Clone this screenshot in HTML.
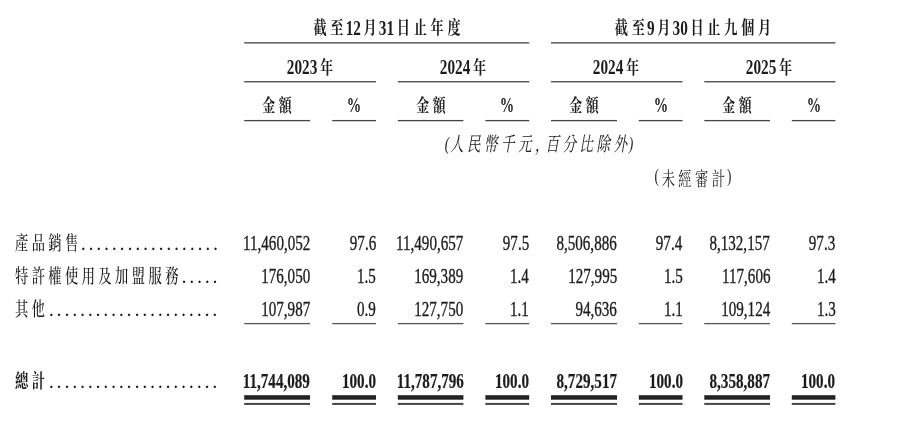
<!DOCTYPE html>
<html lang="zh-Hant"><head><meta charset="utf-8"><title>收入明細</title>
<style>
html,body{margin:0;padding:0;background:#fff;overflow:hidden;}
#page{position:absolute;left:0;top:0;width:900px;height:421px;overflow:hidden;background:#fff;}
body{width:900px;height:421px;position:relative;overflow:hidden;font-family:"Liberation Serif","Noto Serif CJK SC",serif;color:#1c1c1c;}
.t{position:absolute;white-space:nowrap;line-height:40px;height:40px;}
.c{display:inline-block;font-size:0.92em;letter-spacing:0.26em;line-height:40px;vertical-align:baseline;transform-origin:50% 70%;transform:translateY(var(--dy,-1px)) scaleY(var(--ky,1));}
.e{margin-right:-0.26em;}
.g{margin-left:0.2em;}
.k{margin-right:-0.12em;}
.b{font-weight:bold;}
.h .c{font-size:0.862em;--ky:1.067;letter-spacing:0.285em;}
.h .e{margin-right:-0.285em;}
.i{font-style:italic;}
.ln{position:absolute;}
.n{-webkit-text-stroke:0.35px #1c1c1c;}
.n.b{-webkit-text-stroke:0.2px #1c1c1c;}
.p{display:inline-block;font-size:0.92em;transform:translateY(-5px);}
.lab{position:absolute;white-space:nowrap;height:40px;line-height:40px;transform-origin:0 0;}
.d{letter-spacing:5.806px;font-weight:bold;}
</style></head><body>
<div id="page">
<div class="t b h" style="top:8.00px;left:186.60px;width:400px;text-align:center;transform-origin:50% 0;transform:scaleX(0.763);font-size:20px;"><span class="c k">截至</span>12<span class="c g k">月</span>31<span class="c e g">日止年度</span></div>
<div class="t b h" style="top:8.00px;left:493.20px;width:400px;text-align:center;transform-origin:50% 0;transform:scaleX(0.763);font-size:20px;"><span class="c k">截至</span>9<span class="c g k">月</span>30<span class="c e g">日止九個月</span></div>
<div class="t b h" style="top:47.00px;left:109.70px;width:400px;text-align:center;transform-origin:50% 0;transform:scaleX(0.763);font-size:20px;">2023<span class="c e g" style="--dy:0px">年</span></div>
<div class="t b h" style="top:47.00px;left:263.10px;width:400px;text-align:center;transform-origin:50% 0;transform:scaleX(0.763);font-size:20px;">2024<span class="c e g" style="--dy:0px">年</span></div>
<div class="t b h" style="top:47.00px;left:416.35px;width:400px;text-align:center;transform-origin:50% 0;transform:scaleX(0.763);font-size:20px;">2024<span class="c e g" style="--dy:0px">年</span></div>
<div class="t b h" style="top:47.00px;left:569.45px;width:400px;text-align:center;transform-origin:50% 0;transform:scaleX(0.763);font-size:20px;">2025<span class="c e g" style="--dy:0px">年</span></div>
<div class="t b h" style="top:85.00px;left:77.40px;width:400px;text-align:center;transform-origin:50% 0;transform:scaleX(0.75);font-size:20px;"><span class="c e" style="--dy:0px;font-weight:700">金額</span></div>
<div class="t b h" style="top:85.00px;left:154.10px;width:400px;text-align:center;transform-origin:50% 0;transform:scaleX(0.72);font-size:20px;">%</div>
<div class="t b h" style="top:85.00px;left:230.90px;width:400px;text-align:center;transform-origin:50% 0;transform:scaleX(0.75);font-size:20px;"><span class="c e" style="--dy:0px;font-weight:700">金額</span></div>
<div class="t b h" style="top:85.00px;left:307.30px;width:400px;text-align:center;transform-origin:50% 0;transform:scaleX(0.72);font-size:20px;">%</div>
<div class="t b h" style="top:85.00px;left:384.30px;width:400px;text-align:center;transform-origin:50% 0;transform:scaleX(0.75);font-size:20px;"><span class="c e" style="--dy:0px;font-weight:700">金額</span></div>
<div class="t b h" style="top:85.00px;left:460.65px;width:400px;text-align:center;transform-origin:50% 0;transform:scaleX(0.72);font-size:20px;">%</div>
<div class="t b h" style="top:85.00px;left:537.45px;width:400px;text-align:center;transform-origin:50% 0;transform:scaleX(0.75);font-size:20px;"><span class="c e" style="--dy:0px;font-weight:700">金額</span></div>
<div class="t b h" style="top:85.00px;left:613.60px;width:400px;text-align:center;transform-origin:50% 0;transform:scaleX(0.72);font-size:20px;">%</div>
<div class="t i" style="top:125.00px;left:339.10px;width:400px;text-align:center;transform-origin:50% 0;transform:scaleX(0.734);font-size:20px;"><span class="p" style="transform:translateY(-2px);margin-right:1px">(</span><span class="c" style="--ky:1.08;--dy:-1px">人民幣千元</span><span class="c" style="letter-spacing:-0.24em;--ky:1.08;--dy:-1px">，</span><span class="c e" style="--ky:1.08;--dy:-1px">百分比除外</span><span class="p" style="transform:translateY(-2px);margin-left:2.4px">)</span></div>
<div class="t " style="top:160.00px;left:493.30px;width:400px;text-align:center;transform-origin:50% 0;transform:scaleX(0.72);font-size:20px;"><span class="p" style="letter-spacing:0.2em">(</span><span class="c e" style="--ky:1.035">未經審計</span><span class="p" style="margin-left:0.15em">)</span></div>
<div class="lab" style="left:15px;top:223px;transform:scaleX(0.72);font-size:20px;"><span class="c" style="--ky:1.06;--dy:0px;font-weight:500">產品銷售</span></div>
<div class="lab d" style="right:678.40px;top:223px;transform-origin:100% 27px;transform:scale(0.72,0.78);font-size:20px;">..................</div>
<div class="t n" style="top:223.00px;right:590.00px;transform-origin:100% 0;transform:scaleX(0.729);font-size:20.7px;">11,460,052</div>
<div class="t n" style="top:223.00px;right:524.00px;transform-origin:100% 0;transform:scaleX(0.729);font-size:20.7px;">97.6</div>
<div class="t n" style="top:223.00px;right:436.60px;transform-origin:100% 0;transform:scaleX(0.729);font-size:20.7px;">11,490,657</div>
<div class="t n" style="top:223.00px;right:370.80px;transform-origin:100% 0;transform:scaleX(0.729);font-size:20.7px;">97.5</div>
<div class="t n" style="top:223.00px;right:283.00px;transform-origin:100% 0;transform:scaleX(0.729);font-size:20.7px;">8,506,886</div>
<div class="t n" style="top:223.00px;right:217.50px;transform-origin:100% 0;transform:scaleX(0.729);font-size:20.7px;">97.4</div>
<div class="t n" style="top:223.00px;right:130.00px;transform-origin:100% 0;transform:scaleX(0.729);font-size:20.7px;">8,132,157</div>
<div class="t n" style="top:223.00px;right:64.60px;transform-origin:100% 0;transform:scaleX(0.729);font-size:20.7px;">97.3</div>
<div class="lab" style="left:15px;top:256px;transform:scaleX(0.72);font-size:20px;"><span class="c" style="--ky:1.06;--dy:0px;font-weight:500">特許權使用及加盟服務</span></div>
<div class="lab d" style="right:679.20px;top:256px;transform-origin:100% 27px;transform:scale(0.72,0.78);font-size:20px;">.....</div>
<div class="t n" style="top:256.00px;right:590.00px;transform-origin:100% 0;transform:scaleX(0.729);font-size:20.7px;">176,050</div>
<div class="t n" style="top:256.00px;right:524.00px;transform-origin:100% 0;transform:scaleX(0.729);font-size:20.7px;">1.5</div>
<div class="t n" style="top:256.00px;right:436.60px;transform-origin:100% 0;transform:scaleX(0.729);font-size:20.7px;">169,389</div>
<div class="t n" style="top:256.00px;right:370.80px;transform-origin:100% 0;transform:scaleX(0.729);font-size:20.7px;">1.4</div>
<div class="t n" style="top:256.00px;right:283.00px;transform-origin:100% 0;transform:scaleX(0.729);font-size:20.7px;">127,995</div>
<div class="t n" style="top:256.00px;right:217.50px;transform-origin:100% 0;transform:scaleX(0.729);font-size:20.7px;">1.5</div>
<div class="t n" style="top:256.00px;right:130.00px;transform-origin:100% 0;transform:scaleX(0.729);font-size:20.7px;">117,606</div>
<div class="t n" style="top:256.00px;right:64.60px;transform-origin:100% 0;transform:scaleX(0.729);font-size:20.7px;">1.4</div>
<div class="lab" style="left:15px;top:289px;transform:scaleX(0.72);font-size:20px;"><span class="c" style="--ky:1.06;--dy:0px;font-weight:500">其他</span></div>
<div class="lab d" style="right:679.20px;top:289px;transform-origin:100% 27px;transform:scale(0.72,0.78);font-size:20px;">......................</div>
<div class="t n" style="top:289.00px;right:590.00px;transform-origin:100% 0;transform:scaleX(0.729);font-size:20.7px;">107,987</div>
<div class="t n" style="top:289.00px;right:524.00px;transform-origin:100% 0;transform:scaleX(0.729);font-size:20.7px;">0.9</div>
<div class="t n" style="top:289.00px;right:436.60px;transform-origin:100% 0;transform:scaleX(0.729);font-size:20.7px;">127,750</div>
<div class="t n" style="top:289.00px;right:370.80px;transform-origin:100% 0;transform:scaleX(0.729);font-size:20.7px;">1.1</div>
<div class="t n" style="top:289.00px;right:283.00px;transform-origin:100% 0;transform:scaleX(0.729);font-size:20.7px;">94,636</div>
<div class="t n" style="top:289.00px;right:217.50px;transform-origin:100% 0;transform:scaleX(0.729);font-size:20.7px;">1.1</div>
<div class="t n" style="top:289.00px;right:130.00px;transform-origin:100% 0;transform:scaleX(0.729);font-size:20.7px;">109,124</div>
<div class="t n" style="top:289.00px;right:64.60px;transform-origin:100% 0;transform:scaleX(0.729);font-size:20.7px;">1.3</div>
<div class="lab" style="left:15px;top:361px;transform:scaleX(0.72);font-size:20px;"><span class="c" style="--ky:1.06;--dy:0px;font-weight:700">總計</span></div>
<div class="lab d" style="right:679.20px;top:361px;transform-origin:100% 27px;transform:scale(0.72,0.78);font-size:20px;">......................</div>
<div class="t n b" style="top:361.00px;right:590.00px;transform-origin:100% 0;transform:scaleX(0.756);font-size:20px;">11,744,089</div>
<div class="t n b" style="top:361.00px;right:524.00px;transform-origin:100% 0;transform:scaleX(0.756);font-size:20px;">100.0</div>
<div class="t n b" style="top:361.00px;right:436.60px;transform-origin:100% 0;transform:scaleX(0.756);font-size:20px;">11,787,796</div>
<div class="t n b" style="top:361.00px;right:370.80px;transform-origin:100% 0;transform:scaleX(0.756);font-size:20px;">100.0</div>
<div class="t n b" style="top:361.00px;right:283.00px;transform-origin:100% 0;transform:scaleX(0.756);font-size:20px;">8,729,517</div>
<div class="t n b" style="top:361.00px;right:217.50px;transform-origin:100% 0;transform:scaleX(0.756);font-size:20px;">100.0</div>
<div class="t n b" style="top:361.00px;right:130.00px;transform-origin:100% 0;transform:scaleX(0.756);font-size:20px;">8,358,887</div>
<div class="t n b" style="top:361.00px;right:64.60px;transform-origin:100% 0;transform:scaleX(0.756);font-size:20px;">100.0</div>
<svg class="ln" width="900" height="421" viewBox="0 0 900 421" style="left:0;top:0">
<rect x="244.20" y="42.20" width="285.00" height="1.3" fill="#444"/>
<rect x="551.00" y="42.20" width="284.40" height="1.3" fill="#444"/>
<rect x="244.20" y="81.10" width="131.80" height="1.3" fill="#444"/>
<rect x="397.80" y="81.10" width="131.40" height="1.3" fill="#444"/>
<rect x="551.00" y="81.10" width="131.50" height="1.3" fill="#444"/>
<rect x="704.30" y="81.10" width="131.10" height="1.3" fill="#444"/>
<rect x="244.20" y="119.95" width="65.80" height="1.3" fill="#444"/>
<rect x="332.20" y="119.95" width="43.80" height="1.3" fill="#444"/>
<rect x="397.80" y="119.95" width="65.60" height="1.3" fill="#444"/>
<rect x="485.40" y="119.95" width="43.80" height="1.3" fill="#444"/>
<rect x="551.00" y="119.95" width="66.00" height="1.3" fill="#444"/>
<rect x="638.80" y="119.95" width="43.70" height="1.3" fill="#444"/>
<rect x="704.30" y="119.95" width="65.70" height="1.3" fill="#444"/>
<rect x="791.80" y="119.95" width="43.60" height="1.3" fill="#444"/>
<rect x="244.20" y="322.95" width="65.80" height="1.3" fill="#555"/>
<rect x="244.20" y="395.20" width="65.80" height="4.5" fill="#222"/>
<rect x="244.20" y="402.90" width="65.80" height="2.0" fill="#444"/>
<rect x="332.20" y="322.95" width="43.80" height="1.3" fill="#555"/>
<rect x="332.20" y="395.20" width="43.80" height="4.5" fill="#222"/>
<rect x="332.20" y="402.90" width="43.80" height="2.0" fill="#444"/>
<rect x="397.80" y="322.95" width="65.60" height="1.3" fill="#555"/>
<rect x="397.80" y="395.20" width="65.60" height="4.5" fill="#222"/>
<rect x="397.80" y="402.90" width="65.60" height="2.0" fill="#444"/>
<rect x="485.40" y="322.95" width="43.80" height="1.3" fill="#555"/>
<rect x="485.40" y="395.20" width="43.80" height="4.5" fill="#222"/>
<rect x="485.40" y="402.90" width="43.80" height="2.0" fill="#444"/>
<rect x="551.00" y="322.95" width="66.00" height="1.3" fill="#555"/>
<rect x="551.00" y="395.20" width="66.00" height="4.5" fill="#222"/>
<rect x="551.00" y="402.90" width="66.00" height="2.0" fill="#444"/>
<rect x="638.80" y="322.95" width="43.70" height="1.3" fill="#555"/>
<rect x="638.80" y="395.20" width="43.70" height="4.5" fill="#222"/>
<rect x="638.80" y="402.90" width="43.70" height="2.0" fill="#444"/>
<rect x="704.30" y="322.95" width="65.70" height="1.3" fill="#555"/>
<rect x="704.30" y="395.20" width="65.70" height="4.5" fill="#222"/>
<rect x="704.30" y="402.90" width="65.70" height="2.0" fill="#444"/>
<rect x="791.80" y="322.95" width="43.60" height="1.3" fill="#555"/>
<rect x="791.80" y="395.20" width="43.60" height="4.5" fill="#222"/>
<rect x="791.80" y="402.90" width="43.60" height="2.0" fill="#444"/>
</svg>
</div>
</body></html>
